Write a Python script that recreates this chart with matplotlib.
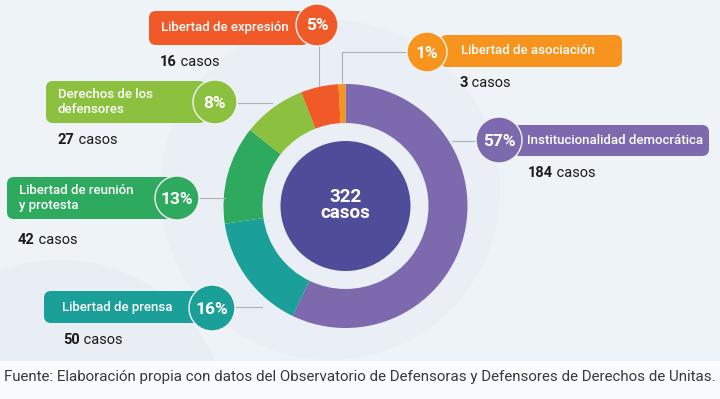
import matplotlib.pyplot as plt
from matplotlib.patches import FancyBboxPatch, Circle

plt.rcParams['font.family'] = ['Roboto', 'DejaVu Sans']

# data
categorias = ['Institucionalidad democrática', 'Libertad de prensa',
              'Libertad de reunión\ny protesta', 'Derechos de los\ndefensores',
              'Libertad de expresión', 'Libertad de asociación']
casos = [184, 50, 42, 27, 16, 3]
porcentajes = ['57%', '16%', '13%', '8%', '5%', '1%']
colores = ['#7d69ad', '#1b9f99', '#2eaa5f', '#8cc13f', '#f05a29', '#f7941d']
total = sum(casos)
fuente = ('Fuente: Elaboración propia con datos del Observatorio de Defensoras '
          'y Defensores de Derechos de Unitas.')

W, H = 720, 399
fig = plt.figure(figsize=(W / 100, H / 100), dpi=100)
fig.patch.set_facecolor('#edf3f6')

# background layer (pixel coords)
bg = fig.add_axes([0, 0, 1, 1], zorder=0)
bg.set_xlim(0, W)
bg.set_ylim(H, 0)
bg.axis('off')
bg.add_patch(Circle((330, 190), 170, fc='#e8eef5', ec='none', alpha=0.7))
bg.add_patch(Circle((60, 430), 170, fc='#e4ebf3', ec='none', alpha=0.5))
bg.add_patch(plt.Rectangle((0, 361), W, 40, fc='#f9fbfc', ec='none'))
bg.text(4, 377, fuente, fontsize=10.9, color='#3a3a3a', va='center', ha='left')

# donut
cx, cy, R = 345.5, 206, 122
pax = fig.add_axes([(cx - R) / W, (H - cy - R) / H, 2 * R / W, 2 * R / H], zorder=1)
pax.pie(casos, colors=colores, startangle=90, counterclock=False, radius=1,
        wedgeprops=dict(width=39 / R, edgecolor='none'))
pax.add_patch(Circle((0, 0), 65 / R, fc='#4f4d99', ec='none'))
pax.text(0, 0.075, str(total), color='white', fontsize=13.5, fontweight='bold',
         ha='center', va='center')
pax.text(0, -0.06, 'casos', color='white', fontsize=13.5, fontweight='bold',
         ha='center', va='center')
pax.set_xlim(-1, 1)
pax.set_ylim(-1, 1)

# label layer
ax = fig.add_axes([0, 0, 1, 1], zorder=2)
ax.set_xlim(0, W)
ax.set_ylim(H, 0)
ax.axis('off')
ax.patch.set_alpha(0)

# layout per label: pill box, badge circle, text position, cases position, connector
layout = [
    dict(box=(513, 125, 196, 31), circ=(499, 140, 23), txt=(527, 141),
         cas=(528, 173), line=[(452, 141), (476, 141)]),
    dict(box=(44, 291, 170, 32), circ=(212, 308, 23), txt=(62, 307),
         cas=(63, 340), line=[(235, 307), (262, 307)]),
    dict(box=(7, 177, 165, 42), circ=(177, 198, 22), txt=(19, 198),
         cas=(18, 240), line=[(199, 198), (225, 198)]),
    dict(box=(46, 81, 160, 42), circ=(215, 102, 22), txt=(58, 102),
         cas=(58, 140), line=[(237, 103), (272, 103)]),
    dict(box=(149, 11, 160, 34), circ=(317, 25, 21), txt=(161, 28),
         cas=(160, 62), line=[(319, 46), (319, 86)]),
    dict(box=(440, 35, 182, 32), circ=(427, 52, 20), txt=(461, 51),
         cas=(460, 83), line=[(342, 84), (342, 52), (407, 52)]),
]

for cat, n, pct, col, L in zip(categorias, casos, porcentajes, colores, layout):
    xs, ys = zip(*L['line'])
    ax.plot(xs, ys, color='#aab3bb', lw=0.8, zorder=1)
    x, y, w, h = L['box']
    ax.add_patch(FancyBboxPatch((x, y), w, h, boxstyle='round,pad=0,rounding_size=7',
                                fc=col, ec='none', zorder=2))
    ccx, ccy, r = L['circ']
    ax.add_patch(Circle((ccx, ccy), r, fc=col, ec='#f4f4f4', lw=1, zorder=3))
    ax.text(ccx, ccy + 1, pct, color='white', fontsize=12.5, fontweight='bold',
            ha='center', va='center', zorder=4)
    ax.text(L['txt'][0], L['txt'][1], cat, color='white', fontsize=9.5,
            fontweight='medium', ha='left', va='center', linespacing=1.15, zorder=4)
    t = ax.text(L['cas'][0], L['cas'][1], str(n), color='#1a1a1a', fontsize=10.5,
                fontweight='bold', ha='left', va='center')
    ax.annotate(' casos', xy=(1, 0.5), xycoords=t, color='#1a1a1a', fontsize=10.5,
                ha='left', va='center')

fig.savefig('out.png', dpi=100, facecolor=fig.get_facecolor())
